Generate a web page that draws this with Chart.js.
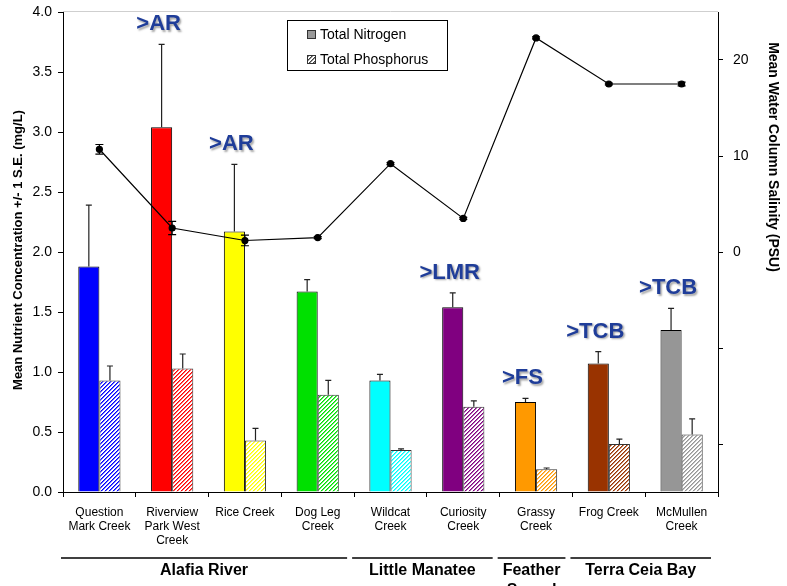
<!DOCTYPE html>
<html>
<head>
<meta charset="utf-8">
<script src="https://cdn.jsdelivr.net/npm/chart.js@4.4.0/dist/chart.umd.min.js"></script>
<style>
body { margin: 0; background: #fff; }
</style>
</head>
<body>
<canvas id="myChart" width="787" height="586"></canvas>
<script>
var FONT = "Arial, 'Liberation Sans', sans-serif";

// data
var creekLabels = [
    ["Question", "Mark Creek"],
    ["Riverview", "Park West", "Creek"],
    ["Rice Creek"],
    ["Dog Leg", "Creek"],
    ["Wildcat", "Creek"],
    ["Curiosity", "Creek"],
    ["Grassy", "Creek"],
    ["Frog Creek"],
    ["McMullen", "Creek"]
];
var nitrogen = [1.88, 3.04, 2.17, 1.67, 0.93, 1.54, 0.75, 1.07, 1.35];
var nitrogenSE = [0.51, 0.69, 0.56, 0.10, 0.05, 0.12, 0.03, 0.10, 0.18];
var phosphorus = [0.93, 1.03, 0.43, 0.81, 0.35, 0.71, 0.19, 0.40, 0.48];
var phosphorusSE = [0.12, 0.12, 0.10, 0.12, 0.01, 0.05, 0.01, 0.04, 0.13];
var salinity = [10.7, 2.5, 1.2, 1.5, 9.2, 3.5, 22.3, 17.5, 17.5];
var salinitySE = [0.5, 0.7, 0.55, 0.1, 0.1, 0.1, 0.1, 0.1, 0.2];
var barColors = ["#0000FF", "#FF0000", "#FFFF00", "#00E000", "#00FFFF", "#800080", "#FF9900", "#993300", "#969696"];
var annoLabels = [null, ">AR", ">AR", null, null, ">LMR", ">FS", ">TCB", ">TCB"];
var nutrientTicks = [0, 0.5, 1, 1.5, 2, 2.5, 3, 3.5, 4];
var salinityTicks = [-20, -10, 0, 10, 20];
var groupNames = [["Alafia River"], ["Little Manatee"], ["Feather", "Sound"], ["Terra Ceia Bay"]];
var groupStart = [0, 4, 6, 7];
var groupEnd = [3, 5, 6, 8];

const ctx = document.getElementById('myChart');
const ctx2d = ctx.getContext('2d');

function makeHatch(color) {
    const c = document.createElement('canvas');
    c.width = 4; c.height = 4;
    const g = c.getContext('2d');
    g.fillStyle = '#fff';
    g.fillRect(0, 0, 4, 4);
    for (let i = 0; i < 4; i++) {
        g.fillStyle = color;
        g.fillRect(i, 3 - i, 1, 1);
        g.globalAlpha = 0.6;
        g.fillRect(i, (4 - i) % 4, 1, 1);
        g.globalAlpha = 1;
    }
    return ctx2d.createPattern(c, 'repeat');
}

var hatchPatterns = barColors.map(makeHatch);
var legendHatch = makeHatch('#444');

function fixVertical(s, w) {
    s.width = w;
    s.paddingTop = 0;
    s.paddingBottom = 0;
}

const extras = {
    id: 'extras',
    afterDatasetsDraw(chart) {
        const c = chart.ctx;
        const y = chart.scales.y;
        const y2 = chart.scales.y2;
        c.save();
        // error bars on the bars
        [[1, nitrogen, nitrogenSE], [2, phosphorus, phosphorusSE]].forEach(function (d) {
            const meta = chart.getDatasetMeta(d[0]);
            meta.data.forEach(function (el, i) {
                const top = y.getPixelForValue(d[1][i] + d[2][i]);
                c.strokeStyle = '#222';
                c.lineWidth = 1.2;
                c.beginPath();
                c.moveTo(el.x, el.y);
                c.lineTo(el.x, top);
                c.moveTo(el.x - 3, top);
                c.lineTo(el.x + 3, top);
                c.stroke();
            });
        });
        // salinity error bars
        const lm = chart.getDatasetMeta(0);
        lm.data.forEach(function (el, i) {
            const hi = y2.getPixelForValue(salinity[i] + salinitySE[i]);
            const lo = y2.getPixelForValue(salinity[i] - salinitySE[i]);
            c.strokeStyle = '#000';
            c.lineWidth = 1.2;
            c.beginPath();
            c.moveTo(el.x, hi); c.lineTo(el.x, lo);
            c.moveTo(el.x - 4, hi); c.lineTo(el.x + 4, hi);
            c.moveTo(el.x - 4, lo); c.lineTo(el.x + 4, lo);
            c.stroke();
        });
        // significance labels
        const nm = chart.getDatasetMeta(1);
        c.font = 'bold 22px ' + FONT;
        c.textAlign = 'center';
        c.textBaseline = 'middle';
        annoLabels.forEach(function (t, i) {
            if (!t) return;
            const el = nm.data[i];
            const top = y.getPixelForValue(nitrogen[i] + nitrogenSE[i]);
            c.shadowColor = 'rgba(0,0,0,0.35)';
            c.shadowOffsetX = 1.5;
            c.shadowOffsetY = 1.5;
            c.shadowBlur = 2;
            c.fillStyle = '#1F3D99';
            c.fillText(t, el.x - 3, top - 20);
        });
        c.restore();
    },
    afterDraw(chart) {
        const c = chart.ctx;
        const a = chart.chartArea;
        const x = chart.scales.x;
        c.save();
        // light top border of plot
        c.strokeStyle = '#cfcfcf';
        c.lineWidth = 1;
        c.beginPath();
        c.moveTo(a.left, a.top - 0.5);
        c.lineTo(a.right, a.top - 0.5);
        c.stroke();

        // legend
        c.strokeStyle = '#000';
        c.strokeRect(287.5, 20.5, 160, 50);
        c.fillStyle = '#999';
        c.fillRect(307, 30, 9, 9);
        c.strokeStyle = '#333';
        c.strokeRect(307.5, 30.5, 8, 8);
        c.fillStyle = legendHatch;
        c.fillRect(307, 55, 9, 9);
        c.strokeRect(307.5, 55.5, 8, 8);
        c.fillStyle = '#000';
        c.font = '14px ' + FONT;
        c.textAlign = 'left';
        c.textBaseline = 'middle';
        c.fillText('Total Nitrogen', 320, 35);
        c.fillText('Total Phosphorus', 320, 60);

        // site groups under the axis
        const half = (x.getPixelForValue(1) - x.getPixelForValue(0)) / 2;
        c.textAlign = 'center';
        c.font = 'bold 16px ' + FONT;
        for (let g = 0; g < groupNames.length; g++) {
            const l = x.getPixelForValue(groupStart[g]) - half - 2;
            const r = x.getPixelForValue(groupEnd[g]) + half - 7;
            c.strokeStyle = '#000';
            c.lineWidth = 1.5;
            c.beginPath();
            c.moveTo(l, 558);
            c.lineTo(r, 558);
            c.stroke();
            groupNames[g].forEach(function (t, k) {
                c.fillText(t, (l + r) / 2, 571 + k * 20);
            });
        }

        // axis titles
        c.font = 'bold 13px ' + FONT;
        c.translate(18, 250);
        c.rotate(-Math.PI / 2);
        c.fillText('Mean Nutrient Concentration +/- 1 S.E. (mg/L)', 0, 0);
        c.setTransform(1, 0, 0, 1, 0, 0);
        c.font = 'bold 14px ' + FONT;
        c.translate(773, 157);
        c.rotate(Math.PI / 2);
        c.fillText('Mean Water Column Salinity (PSU)', 0, 0);
        c.restore();
    }
};

new Chart(ctx, {
    data: {
        labels: creekLabels,
        datasets: [
            {
                type: 'line',
                label: 'Salinity',
                data: salinity,
                yAxisID: 'y2',
                borderColor: '#000',
                borderWidth: 1.2,
                pointRadius: 3,
                pointBackgroundColor: '#000',
                pointBorderColor: '#000',
                tension: 0,
                order: 0
            },
            {
                type: 'bar',
                label: 'Total Nitrogen',
                data: nitrogen,
                yAxisID: 'y',
                backgroundColor: barColors,
                borderColor: '#000',
                borderWidth: 1,
                categoryPercentage: 0.58,
                barPercentage: 1,
                order: 1
            },
            {
                type: 'bar',
                label: 'Total Phosphorus',
                data: phosphorus,
                yAxisID: 'y',
                backgroundColor: hatchPatterns,
                borderColor: '#333',
                borderWidth: 1,
                categoryPercentage: 0.58,
                barPercentage: 1,
                order: 2
            }
        ]
    },
    options: {
        responsive: false,
        animation: false,
        layout: { padding: { top: 12, left: 0, right: 0, bottom: 0 } },
        plugins: {
            legend: { display: false },
            tooltip: { enabled: false }
        },
        scales: {
            x: {
                offset: true,
                grid: { offset: true, drawOnChartArea: false, tickLength: 5, color: '#000' },
                border: { color: '#000', width: 1 },
                ticks: { color: '#000', font: { family: FONT, size: 12 }, padding: 8, maxRotation: 0, autoSkip: false },
                afterFit: function (s) { s.height = 94; s.paddingLeft = 0; s.paddingRight = 0; }
            },
            y: {
                position: 'left',
                min: 0,
                max: 4,
                afterBuildTicks: function (s) { s.ticks = nutrientTicks.map(v => ({ value: v })); },
                ticks: { color: '#000', font: { family: FONT, size: 14 }, padding: 6, callback: v => v.toFixed(1) },
                grid: { drawOnChartArea: false, tickLength: 5, color: '#000' },
                border: { color: '#000', width: 1 },
                afterFit: function (s) { fixVertical(s, 63); }
            },
            y2: {
                position: 'right',
                min: -25,
                max: 25,
                afterBuildTicks: function (s) { s.ticks = salinityTicks.map(v => ({ value: v })); },
                ticks: { color: '#000', font: { family: FONT, size: 14 }, padding: 10, callback: v => (v < 0 ? '' : v) },
                grid: { drawOnChartArea: false, tickLength: 5, color: '#000' },
                border: { color: '#000', width: 1 },
                afterFit: function (s) { fixVertical(s, 69); }
            }
        }
    },
    plugins: [extras]
});
</script>
</body>
</html>
